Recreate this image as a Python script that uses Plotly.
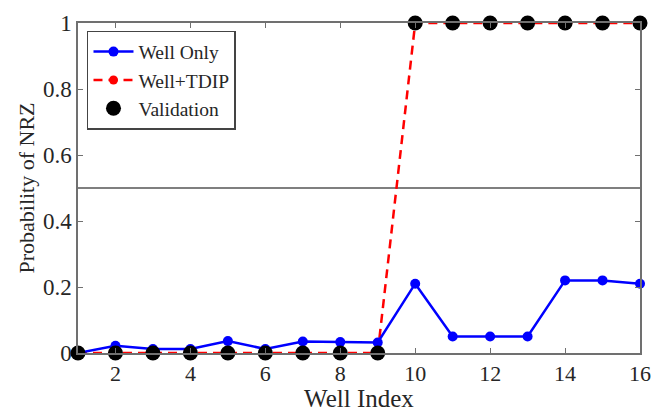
import plotly.graph_objects as go

# Well indices and NRZ probabilities
wells = list(range(1, 17))
well_only = [0.0, 0.022, 0.012, 0.012, 0.036, 0.012, 0.035, 0.033, 0.032,
             0.21, 0.05, 0.05, 0.05, 0.22, 0.22, 0.21]
well_tdip = [0, 0, 0, 0, 0, 0, 0, 0, 0, 1, 1, 1, 1, 1, 1, 1]
validation = [0, 0, 0, 0, 0, 0, 0, 0, 0, 1, 1, 1, 1, 1, 1, 1]
threshold = 0.5

x_ticks = [2, 4, 6, 8, 10, 12, 14, 16]
y_ticks = [0, 0.2, 0.4, 0.6, 0.8, 1]
y_tick_text = ["0", "0.2", "0.4", "0.6", "0.8", "1"]

FONT = "Times New Roman, Liberation Serif, Tinos, DejaVu Serif"
AXIS_GRAY = "#707070"
TEXT = "#262626"

fig = go.Figure()

fig.add_trace(go.Scatter(
    x=wells, y=well_tdip, name="Well+TDIP", mode="lines+markers",
    line=dict(color="#ff0000", width=2.5, dash="9px,6px"),
    marker=dict(color="#ff0000", size=9), legendrank=2, cliponaxis=False,
))
fig.add_trace(go.Scatter(
    x=wells, y=well_only, name="Well Only", mode="lines+markers",
    line=dict(color="#0000ff", width=2.5),
    marker=dict(color="#0000ff", size=10), legendrank=1, cliponaxis=False,
))
fig.add_trace(go.Scatter(
    x=wells, y=validation, name="Validation", mode="markers",
    marker=dict(color="#000000", size=15), legendrank=3, cliponaxis=False,
))

# Decision threshold
fig.add_shape(type="line", xref="x", yref="y", x0=wells[0], x1=wells[-1],
              y0=threshold, y1=threshold, line=dict(color="#000000", width=1.2),
              layer="below")

fig.update_layout(
    width=652, height=412,
    margin=dict(l=78, r=12, t=23, b=59),
    paper_bgcolor="white", plot_bgcolor="white",
    font=dict(family=FONT, size=21, color=TEXT),
    showlegend=True,
    legend=dict(
        x=0.016, y=0.976, xanchor="left", yanchor="top",
        bgcolor="white", bordercolor="#444444", borderwidth=1.5,
        font=dict(family=FONT, size=19.5, color=TEXT),
        tracegroupgap=0, itemwidth=40,
    ),
)

fig.update_xaxes(
    range=[1, 16], tickvals=x_ticks, ticks="inside", ticklen=5,
    tickcolor=AXIS_GRAY, showline=True, linecolor=AXIS_GRAY, linewidth=1.5,
    mirror="ticks", showgrid=False, zeroline=False, automargin=False,
    title=dict(text="Well Index", font=dict(family=FONT, size=25), standoff=9),
    tickfont=dict(family=FONT, size=22),
)
fig.update_yaxes(
    range=[0, 1], tickvals=y_ticks, ticktext=y_tick_text, ticks="inside",
    ticklen=5, tickcolor=AXIS_GRAY, showline=True, linecolor=AXIS_GRAY,
    linewidth=1.5, mirror="ticks", showgrid=False, zeroline=False,
    automargin=False,
    title=dict(text="Probability of NRZ", font=dict(family=FONT, size=22), standoff=2),
    tickfont=dict(family=FONT, size=23),
)

fig.write_html("out.html")
